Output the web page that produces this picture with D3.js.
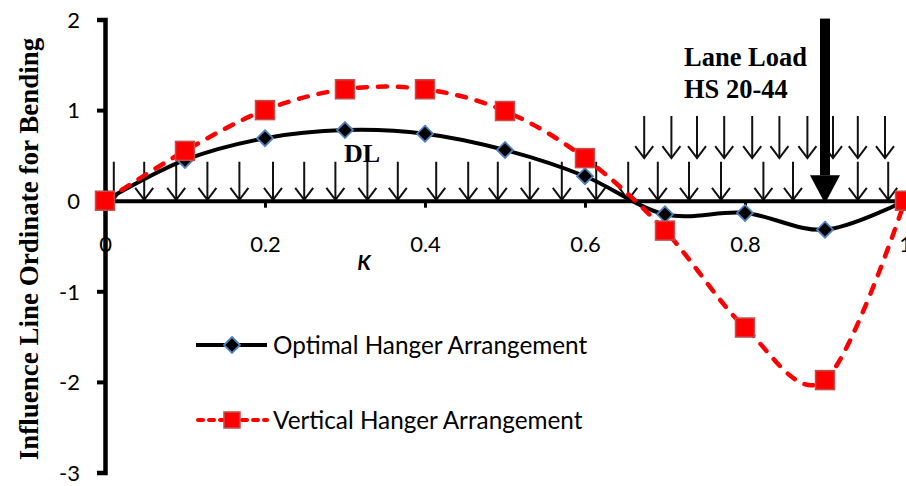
<!DOCTYPE html>
<html>
<head>
<meta charset="utf-8">
<script src="https://cdn.jsdelivr.net/npm/d3@7"></script>
<style>
  html, body { margin: 0; padding: 0; background: #fff; }
  svg { display: block; }
</style>
</head>
<body>
<svg id="chart" width="906" height="486"></svg>
<script>
// Relative position along the span (K) and influence line ordinates
const kValues = [0, 0.1, 0.2, 0.3, 0.4, 0.5, 0.6, 0.7, 0.8, 0.9, 1.0];
const optimalHanger = [0, 0.45, 0.69, 0.78, 0.74, 0.56, 0.27, -0.15, -0.135, -0.32, 0];
const verticalHanger = [0, 0.55, 1.0, 1.23, 1.23, 0.99, 0.47, -0.33, -1.40, -1.98, 0];
const seriesNames = ["Optimal Hanger Arrangement", "Vertical Hanger Arrangement"];
const xTicks = [0, 0.2, 0.4, 0.6, 0.8, 1];
const yTicks = [-3, -2, -1, 0, 1, 2];

// Load diagram glyphs (positions along the span, K)
const deadLoadArrows = [0.011, 0.049, 0.089, 0.128, 0.168, 0.21, 0.249, 0.288, 0.328, 0.366,
  0.414, 0.454, 0.491, 0.531, 0.571, 0.614, 0.654, 0.691, 0.73, 0.77, 0.823, 0.86, 0.941, 0.979];
const laneLoadArrows = [0.674, 0.708, 0.74, 0.774, 0.809, 0.843, 0.878, 0.91, 0.941, 0.975];
const concentratedLoadK = 0.9;

const svg = d3.select("#chart");
const x = d3.scaleLinear().domain([0, 1]).range([105, 905]);
const y = d3.scaleLinear().domain([-3, 2]).range([472.5, 19.5]);

const tickFont = "Lato, 'Open Sans', sans-serif";
const serifFont = "'Liberation Serif', 'DejaVu Serif', serif";
const plainNumber = d => String(d);

// ---- load diagram ----
const arrowG = svg.append("g").attr("stroke", "#111").attr("stroke-width", 2).attr("fill", "none");
function smallArrow(k, yTop, yTip) {
  const px = x(k), t = y(yTop), b = y(yTip);
  arrowG.append("line").attr("x1", px).attr("x2", px).attr("y1", t).attr("y2", b - 1);
  arrowG.append("path").attr("d", `M${px - 9},${b - 12}L${px},${b}L${px + 9},${b - 12}`);
}
deadLoadArrows.forEach(k => smallArrow(k, 0.43, 0.01));
laneLoadArrows.forEach(k => smallArrow(k, 0.935, 0.47));

// concentrated load arrow
const cx = x(concentratedLoadK);
svg.append("rect").attr("x", cx - 5).attr("y", y(2.01)).attr("width", 10)
  .attr("height", y(0.28) - y(2.01)).attr("fill", "#000");
svg.append("path")
  .attr("d", `M${cx - 15},${y(0.28)}L${cx + 15},${y(0.28)}L${cx},${y(-0.03)}Z`)
  .attr("fill", "#000");

// ---- axes ----
const xAxis = svg.append("g").attr("transform", `translate(0,${y(0)})`)
  .call(d3.axisBottom(x).tickValues(xTicks).tickSize(7).tickFormat(plainNumber));
xAxis.select(".domain").attr("stroke", "#000").attr("stroke-width", 4);
xAxis.selectAll(".tick line").attr("stroke", "#000").attr("stroke-width", 3);
xAxis.selectAll(".tick text")
  .attr("font-family", tickFont).attr("font-size", 22).attr("fill", "#000")
  .attr("dy", 0).attr("y", 51);

const yAxis = svg.append("g").attr("transform", `translate(${x(0)},0)`)
  .call(d3.axisLeft(y).tickValues(yTicks).tickSize(8).tickFormat(plainNumber));
yAxis.select(".domain").attr("stroke", "#000").attr("stroke-width", 4.5);
yAxis.selectAll(".tick line").attr("stroke", "#000").attr("stroke-width", 4);
yAxis.selectAll(".tick text")
  .attr("font-family", tickFont).attr("font-size", 22).attr("fill", "#000")
  .attr("x", -25).attr("dy", "0.35em");

// keep the vertical axis on top of the "0" label of the horizontal axis
yAxis.raise();

// ---- series ----
const pts = ys => kValues.map((k, i) => [k, ys[i]]);
const line = d3.line().x(d => x(d[0])).y(d => y(d[1])).curve(d3.curveCardinal.tension(0));

svg.append("path").datum(pts(optimalHanger)).attr("d", line)
  .attr("fill", "none").attr("stroke", "#000").attr("stroke-width", 4);

svg.append("path").datum(pts(verticalHanger)).attr("d", line)
  .attr("fill", "none").attr("stroke", "#ff0000").attr("stroke-width", 4.5)
  .attr("stroke-dasharray", "9,11").attr("stroke-linecap", "round");

const diamond = (g, cxp, cyp, r) => g.append("path")
  .attr("d", `M${cxp},${cyp - r}L${cxp + r},${cyp}L${cxp},${cyp + r}L${cxp - r},${cyp}Z`)
  .attr("fill", "#000").attr("stroke", "#4f81bd").attr("stroke-width", 1.8);
const square = (g, cxp, cyp, s) => g.append("rect")
  .attr("x", cxp - s / 2).attr("y", cyp - s / 2).attr("width", s).attr("height", s)
  .attr("fill", "#ff0000").attr("stroke", "#c0504d").attr("stroke-width", 1.5);

const markers = svg.append("g");
pts(optimalHanger).forEach(d => diamond(markers, x(d[0]), y(d[1]), 8));
pts(verticalHanger).forEach(d => square(markers, x(d[0]), y(d[1]), 19));

// ---- labels ----
svg.append("text").text("Influence Line Ordinate for Bending")
  .attr("transform", `translate(38,249) rotate(-90)`)
  .attr("text-anchor", "middle")
  .attr("font-family", serifFont).attr("font-weight", "bold").attr("font-size", 27);

svg.append("text").text("K").attr("x", 364).attr("y", 270).attr("text-anchor", "middle")
  .attr("font-family", tickFont).attr("font-weight", "bold").attr("font-style", "italic")
  .attr("font-size", 21);

svg.append("text").text("DL").attr("x", 344).attr("y", 162)
  .attr("font-family", serifFont).attr("font-weight", "bold").attr("font-size", 26);

svg.append("text").text("Lane Load").attr("x", 684).attr("y", 66)
  .attr("font-family", serifFont).attr("font-weight", "bold").attr("font-size", 26.5);
svg.append("text").text("HS 20-44").attr("x", 684).attr("y", 98)
  .attr("font-family", serifFont).attr("font-weight", "bold").attr("font-size", 26.5);

// ---- legend ----
const legend = svg.append("g");
const legendRows = [
  { name: seriesNames[0], yPos: 345, kind: "optimal" },
  { name: seriesNames[1], yPos: 420, kind: "vertical" }
];
legendRows.forEach(r => {
  if (r.kind === "optimal") {
    legend.append("line").attr("x1", 196).attr("x2", 267).attr("y1", r.yPos).attr("y2", r.yPos)
      .attr("stroke", "#000").attr("stroke-width", 4);
    diamond(legend, 232, r.yPos, 8);
  } else {
    legend.append("line").attr("x1", 198).attr("x2", 267).attr("y1", r.yPos).attr("y2", r.yPos)
      .attr("stroke", "#ff0000").attr("stroke-width", 4).attr("stroke-dasharray", "5,6")
      .attr("stroke-linecap", "round");
    square(legend, 232, r.yPos, 16);
  }
  legend.append("text").text(r.name).attr("x", 273).attr("y", r.yPos).attr("dy", "0.35em")
    .attr("font-family", tickFont).attr("font-size", 24.3).attr("fill", "#000");
});
</script>
</body>
</html>
